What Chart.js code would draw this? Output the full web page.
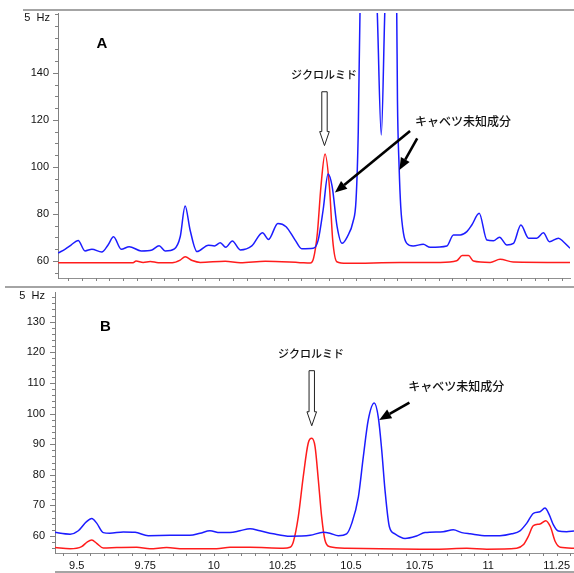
<!DOCTYPE html>
<html lang="ja">
<head>
<meta charset="utf-8">
<script src="https://cdn.jsdelivr.net/npm/chart.js@4.4.0/dist/chart.umd.min.js"></script>
<style>
  html, body { margin: 0; padding: 0; background: #fff; }
  body { width: 574px; height: 573px; position: relative; overflow: hidden; }
  .panel { position: absolute; left: 0; width: 574px; }
  #panelA { top: 0; height: 287px; }
  #panelB { top: 287px; height: 286px; }
  .rule { position: absolute; background: #a4a4a4; height: 2px; }
</style>
</head>
<body>
<div class="rule" style="left:23px; top:9px; width:551px"></div>
<div class="rule" style="left:5px; top:286px; width:569px"></div>
<div class="rule" style="left:55px; top:571px; width:519px"></div>
<div class="panel" id="panelA"><canvas id="chartA"></canvas></div>
<div class="panel" id="panelB"><canvas id="chartB"></canvas></div>

<script>
// tick labels
const yTicksA = [60, 80, 100, 120, 140];
const yTicksB = [60, 70, 80, 90, 100, 110, 120, 130];
const xTicksB = [9.5, 9.75, 10, 10.25, 10.5, 10.75, 11, 11.25];

// Panel A - cabbage sample (blue)
const timeA_sample = [9.413, 9.439, 9.460, 9.486, 9.511, 9.536, 9.572, 9.595, 9.615, 9.643,
  9.672, 9.716, 9.755, 9.781, 9.803, 9.837, 9.858, 9.876, 9.894, 9.919,
  9.961, 9.983, 10.004, 10.024, 10.048, 10.077, 10.119, 10.158, 10.180, 10.214,
  10.244, 10.277, 10.301, 10.343, 10.361, 10.379, 10.397, 10.412, 10.430, 10.448,
  10.467, 10.488, 10.499, 10.507, 10.514, 10.543, 10.575, 10.591, 10.605, 10.627,
  10.647, 10.650, 10.656, 10.662, 10.672, 10.684, 10.707, 10.744, 10.769, 10.830,
  10.854, 10.879, 10.903, 10.921, 10.948, 10.976, 11.000, 11.022, 11.049, 11.073,
  11.100, 11.128, 11.158, 11.182, 11.204, 11.237, 11.255, 11.279];
const valA_sample = [63.4, 65.1, 66.8, 68.7, 64.3, 65.0, 63.8, 66.8, 70.3, 65.0,
  66.1, 64.3, 64.7, 66.5, 64.3, 65.2, 70.3, 83.4, 73.2, 64.0,
  66.7, 66.4, 67.8, 65.8, 68.5, 64.7, 66.4, 72.0, 69.2, 76.0,
  74.6, 68.9, 65.2, 65.4, 68.9, 81.7, 97.0, 91.6, 74.6, 67.5,
  70.3, 76.7, 86.0, 114.5, 170, 210, 170, 113.6, 170, 210,
  170, 128.5, 100.1, 83.1, 71.8, 67.5, 66.4, 67.1, 65.8, 66.4,
  71.1, 71.1, 72.5, 75.3, 80.3, 68.9, 68.6, 70.1, 66.8, 67.5,
  75.3, 69.7, 69.7, 72.0, 68.2, 69.7, 68.2, 65.4];

// Panel A - diclormid standard (red)
const timeA_std = [9.413, 9.686, 9.697, 9.723, 9.749, 9.778, 9.829, 9.858, 9.876, 9.902,
  9.931, 10.022, 10.077, 10.168, 10.295, 10.332, 10.344, 10.358, 10.371, 10.386,
  10.402, 10.414, 10.429, 10.465, 10.660, 10.806, 10.866, 10.886, 10.909, 10.927,
  10.988, 11.024, 11.072, 11.279];
const valA_std = [59.3, 59.3, 60.0, 59.4, 59.8, 59.3, 59.3, 60.4, 61.8, 60.2,
  59.4, 59.9, 59.3, 59.9, 59.3, 59.1, 61.1, 71.8, 91.6, 105.5,
  91.6, 68.9, 59.7, 59.0, 59.4, 59.4, 60.1, 62.3, 62.3, 60.0,
  59.4, 60.7, 59.6, 59.4];

// Panel B - cabbage sample (blue)
const timeB_sample = [9.421, 9.427, 9.476, 9.506, 9.536, 9.555, 9.573, 9.597, 9.621, 9.670,
  9.713, 9.761, 9.840, 9.913, 9.950, 9.986, 10.022, 10.059, 10.095, 10.132,
  10.168, 10.217, 10.278, 10.351, 10.399, 10.423, 10.454, 10.484, 10.503, 10.527,
  10.545, 10.563, 10.585, 10.600, 10.612, 10.624, 10.640, 10.660, 10.697, 10.739,
  10.770, 10.836, 10.873, 10.904, 10.934, 10.995, 11.043, 11.086, 11.116, 11.141,
  11.165, 11.189, 11.207, 11.223, 11.238, 11.256, 11.286, 11.313];
const valB_sample = [61.2, 61.1, 60.6, 61.7, 64.7, 65.7, 64.2, 61.1, 60.9, 61.3,
  61.2, 60.1, 60.2, 60.2, 60.9, 61.7, 61.1, 61.1, 61.7, 62.4,
  61.7, 60.7, 59.9, 60.2, 61.2, 60.9, 60.1, 60.7, 64.2, 72.8,
  85.9, 97.9, 103.4, 98.5, 88.1, 75.0, 63.0, 60.7, 59.2, 60.0,
  61.1, 61.4, 62.0, 61.1, 60.7, 60.1, 60.1, 60.7, 61.7, 64.2,
  67.4, 67.9, 69.1, 66.9, 63.6, 61.6, 61.4, 61.6];

// Panel B - diclormid standard (red)
const timeB_std = [9.421, 9.476, 9.518, 9.539, 9.555, 9.573, 9.597, 9.646, 9.719, 9.767,
  9.828, 9.889, 10.010, 10.059, 10.132, 10.253, 10.278, 10.290, 10.308, 10.326,
  10.344, 10.357, 10.369, 10.381, 10.393, 10.405, 10.423, 10.484, 10.606, 10.752,
  10.812, 10.922, 10.995, 11.104, 11.128, 11.146, 11.165, 11.189, 11.210, 11.227,
  11.245, 11.263, 11.313];
const valB_std = [56.2, 55.8, 56.5, 58.1, 58.7, 57.6, 56.1, 56.2, 56.3, 55.8,
  56.2, 55.8, 55.8, 56.3, 56.3, 56.0, 56.3, 58.1, 66.3, 79.4,
  90.3, 91.9, 89.2, 78.3, 66.3, 58.7, 56.5, 56.0, 55.8, 55.7,
  55.7, 56.0, 55.7, 56.0, 57.1, 59.8, 63.4, 63.9, 65.0, 63.0,
  58.1, 56.3, 56.0];

const BLUE = '#1c1cff';
const RED = '#ff1c1c';
const TICK_FONT = { family: '"Liberation Sans Narrow", "Liberation Sans", sans-serif', size: 11 };

function zip(ts, vs) {
  return ts.map((t, i) => ({ x: t, y: vs[i] }));
}

function solidArrow(ctx, x0, y0, x1, y1) {
  const ang = Math.atan2(y1 - y0, x1 - x0);
  const hl = 12, hw = 5;
  const bx = x1 - hl * Math.cos(ang), by = y1 - hl * Math.sin(ang);
  ctx.strokeStyle = '#000';
  ctx.lineWidth = 2.6;
  ctx.beginPath();
  ctx.moveTo(x0, y0);
  ctx.lineTo(bx, by);
  ctx.stroke();
  ctx.fillStyle = '#000';
  ctx.beginPath();
  ctx.moveTo(x1, y1);
  ctx.lineTo(bx + hw * Math.sin(ang), by - hw * Math.cos(ang));
  ctx.lineTo(bx - hw * Math.sin(ang), by + hw * Math.cos(ang));
  ctx.closePath();
  ctx.fill();
}

function hollowArrow(ctx, x, yTop, yTip) {
  const sw = 2.7, hw = 4.8, hl = 14;
  ctx.beginPath();
  ctx.moveTo(x - sw, yTop);
  ctx.lineTo(x + sw, yTop);
  ctx.lineTo(x + sw, yTip - hl);
  ctx.lineTo(x + hw, yTip - hl);
  ctx.lineTo(x, yTip);
  ctx.lineTo(x - hw, yTip - hl);
  ctx.lineTo(x - sw, yTip - hl);
  ctx.closePath();
  ctx.fillStyle = '#fff';
  ctx.fill();
  ctx.strokeStyle = '#222';
  ctx.lineWidth = 1;
  ctx.stroke();
}

// minor ticks, unit label, panel letter and peak annotations
const decorPlugin = {
  id: 'decor',
  afterDraw(chart, args, o) {
    const { ctx, chartArea: a, scales: { x, y } } = chart;
    ctx.save();
    ctx.strokeStyle = '#808080';
    ctx.lineWidth = 1;
    ctx.beginPath();
    for (let k = Math.ceil(y.min / o.yStep); k * o.yStep <= y.max; k++) {
      const v = k * o.yStep;
      const py = Math.round(y.getPixelForValue(v)) + 0.5;
      const len = o.yMajor.includes(v) ? 5 : 3;
      ctx.moveTo(a.left - len, py);
      ctx.lineTo(a.left, py);
    }
    for (let k = Math.ceil(x.min / o.xStep - 1e-9); k * o.xStep <= x.max + 1e-9; k++) {
      const px = Math.round(x.getPixelForValue(k * o.xStep)) + 0.5;
      ctx.moveTo(px, a.bottom);
      ctx.lineTo(px, a.bottom + 3);
    }
    ctx.stroke();

    ctx.fillStyle = '#111';
    ctx.font = '11px "Liberation Sans", sans-serif';
    ctx.textAlign = 'right';
    ctx.textBaseline = 'middle';
    ctx.fillText('5  Hz', a.left - o.unitDx, a.top + o.unitDy);

    const X = t => x.getPixelForValue(t);
    const Y = v => y.getPixelForValue(v);

    ctx.font = 'bold 15px "Liberation Sans", Arial, sans-serif';
    ctx.textAlign = 'left';
    ctx.textBaseline = 'alphabetic';
    ctx.fillStyle = '#000';
    ctx.fillText(o.letter.text, X(o.letter.t), Y(o.letter.v));

    const s = o.stdNote;
    ctx.font = '500 11px "Noto Sans CJK JP", sans-serif';
    ctx.textAlign = 'center';
    ctx.textBaseline = 'middle';
    ctx.fillStyle = '#111';
    ctx.fillText(s.label, X(s.t), Y(s.v));
    hollowArrow(ctx, X(s.arrowT), Y(s.top), Y(s.tip));

    const c = o.sampleNote;
    ctx.font = '500 12px "Noto Sans CJK JP", sans-serif';
    ctx.textAlign = 'left';
    ctx.fillStyle = '#111';
    ctx.fillText(c.label, X(c.t), Y(c.v));
    c.arrows.forEach(ar => solidArrow(ctx, X(ar[0]), Y(ar[1]), X(ar[2]), Y(ar[3])));
    ctx.restore();
  }
};

function makeChart(id, cfg) {
  return new Chart(document.getElementById(id), {
    type: 'line',
    data: {
      datasets: [{
        data: zip(cfg.sampleT, cfg.sampleV),
        borderColor: BLUE,
        borderWidth: 1.5,
        pointRadius: 0,
        cubicInterpolationMode: 'monotone'
      }, {
        data: zip(cfg.stdT, cfg.stdV),
        borderColor: RED,
        borderWidth: 1.5,
        pointRadius: 0,
        cubicInterpolationMode: 'monotone'
      }]
    },
    options: {
      responsive: true,
      maintainAspectRatio: false,
      animation: false,
      layout: { padding: cfg.padding },
      plugins: {
        legend: { display: false },
        tooltip: { enabled: false },
        decor: cfg.decor
      },
      scales: {
        x: {
          type: 'linear',
          min: cfg.xMin,
          max: cfg.xMax,
          grid: { display: false, drawTicks: false },
          border: { color: '#909090', width: 1 },
          afterBuildTicks: s => { s.ticks = cfg.xTicks.map(v => ({ value: v })); },
          afterFit: s => {
            s.height = cfg.xHeight;
            s.paddingLeft = 0; s.paddingRight = 0; s.paddingTop = 0; s.paddingBottom = 0;
          },
          ticks: {
            display: cfg.xTicks.length > 0,
            autoSkip: false,
            maxRotation: 0,
            padding: 6,
            color: '#111',
            font: TICK_FONT,
            callback: v => String(v)
          }
        },
        y: {
          min: cfg.yMin,
          max: cfg.yMax,
          grid: { display: false, drawTicks: false },
          border: { color: '#808080', width: 1 },
          afterBuildTicks: s => { s.ticks = cfg.yTicks.map(v => ({ value: v })); },
          afterFit: s => {
            s.width = cfg.yWidth;
            s.paddingLeft = 0; s.paddingRight = 0; s.paddingTop = 0; s.paddingBottom = 0;
          },
          ticks: {
            padding: cfg.yPad,
            color: '#111',
            font: TICK_FONT,
            callback: v => String(v)
          }
        }
      }
    },
    plugins: [decorPlugin]
  });
}

makeChart('chartA', {
  sampleT: timeA_sample, sampleV: valA_sample,
  stdT: timeA_std, stdV: valA_std,
  xMin: 9.4125, xMax: 11.279, xTicks: [], xHeight: 9,
  yMin: 52.77, yMax: 165.5, yTicks: yTicksA, yWidth: 58, yPad: 9,
  padding: { top: 13, right: 4, left: 0, bottom: 0 },
  decor: {
    yStep: 5, yMajor: yTicksA, xStep: 0.05, unitDx: 8, unitDy: 5,
    letter: { text: 'A', t: 9.553, v: 150.6 },
    stdNote: { label: 'ジクロルミド', t: 10.382, v: 139.1, arrowT: 10.384, top: 132.0, tip: 109.1 },
    sampleNote: { label: 'キャベツ未知成分', t: 10.714, v: 119.3,
      arrows: [[10.696, 115.3, 10.422, 89.1], [10.722, 112.2, 10.657, 98.7]] }
  }
});

makeChart('chartB', {
  sampleT: timeB_sample, sampleV: valB_sample,
  stdT: timeB_std, stdV: valB_std,
  xMin: 9.421, xMax: 11.313, xTicks: xTicksB, xHeight: 20,
  yMin: 54.44, yMax: 139.7, yTicks: yTicksB, yWidth: 55, yPad: 10,
  padding: { top: 5, right: 0, left: 0, bottom: 0 },
  decor: {
    yStep: 2, yMajor: yTicksB, xStep: 0.05, unitDx: 10, unitDy: 4,
    letter: { text: 'B', t: 9.585, v: 127.1 },
    stdNote: { label: 'ジクロルミド', t: 10.354, v: 119.5, arrowT: 10.357, top: 114.0, tip: 96.0 },
    sampleNote: { label: 'キャベツ未知成分', t: 10.709, v: 109.0,
      arrows: [[10.713, 103.6, 10.603, 97.9]] }
  }
});
</script>
</body>
</html>
